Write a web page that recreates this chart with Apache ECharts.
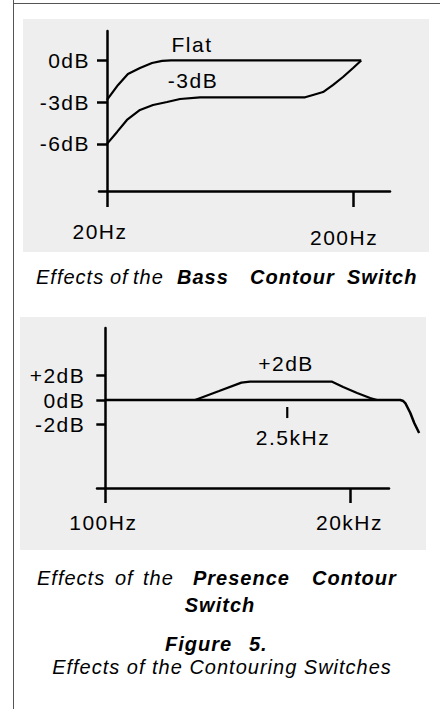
<!DOCTYPE html>
<html>
<head>
<meta charset="utf-8">
<script src="https://cdn.jsdelivr.net/npm/echarts@6/dist/echarts.min.js"></script>
<style>
  html, body { margin: 0; padding: 0; background: #fff; }
  #chart { width: 440px; height: 709px; }
  #chart text { letter-spacing: 1.5px; }
  #chart text[style*="italic"] { letter-spacing: 1px; }
</style>
</head>
<body>
<div id="chart"></div>
<script>
// x is schematic: first labelled tick = 0, second labelled tick = 10
const bassTickValues = [0, 10];
const bassTickLabels = ['20Hz', '200Hz'];
const bassDbTicks = [0, -3, -6];
const bassFlat = [[0, -2.84], [0.45, -1.76], [0.85, -0.97], [1.34, -0.54], [1.83, -0.18], [2.24, -0.03], [2.6, 0], [10.33, 0]];
const bassCut = [[0, -6], [0.41, -5.14], [0.81, -4.28], [1.34, -3.56], [1.87, -3.2], [2.44, -2.99], [2.97, -2.77], [3.78, -2.66],
  [8.05, -2.65], [8.37, -2.48], [8.78, -2.27], [9.19, -1.76], [9.59, -1.19], [10.0, -0.54], [10.33, 0]];

const presTickValues = [0, 10];
const presTickLabels = ['100Hz', '20kHz'];
const presDbTicks = [2, 0, -2];
const presFlat = [[0, 0], [12.03, 0], [12.15, -0.08], [12.25, -0.3], [12.44, -1.06], [12.6, -1.88], [12.8, -2.69]];
const presBoost = [[3.66, 0], [4.64, 0.73], [5.55, 1.42], [5.9, 1.5], [9.25, 1.5], [9.7, 1.06], [10.27, 0.57], [10.8, 0.16], [11.08, 0]];
const presMarker = [[7.42, -0.57], [7.42, -1.47]];

const FONT = '"Liberation Sans", Arial, sans-serif';
const black = '#000';

const chart = echarts.init(document.getElementById('chart'), null, { renderer: 'svg' });

const axisLine = { show: true, onZero: false, lineStyle: { color: '#000', width: 2.5 } };
const tickStyle = { color: '#000', width: 2.5 };

function dbLabel(v) {
  return (v > 0 ? '+' : '') + v + 'dB';
}

function lineSeries(data, axis, width) {
  return {
    type: 'line',
    xAxisIndex: axis,
    yAxisIndex: axis,
    data: data,
    symbol: 'none',
    clip: false,
    silent: true,
    lineStyle: { color: '#000', width: width || 2.2 }
  };
}

function txt(text, x, y, font, align) {
  return {
    type: 'text',
    x: x,
    y: y,
    style: { text: text, font: font, fill: black, textAlign: align || 'center', textVerticalAlign: 'middle' }
  };
}

const lbl = '21px ' + FONT;
const it = 'italic 20px ' + FONT;
const bi = 'italic bold 20px ' + FONT;

// the presence curve runs past the end of its x axis line, so it is drawn
// on a hidden, wider grid that shares the same scale
const presUnit = 292 / (11.57 + 0.34);

const option = {
  animation: false,
  grid: [
    { left: 99, top: 31, width: 291, height: 160 },
    { left: 97, top: 328, width: 292, height: 160 },
    { left: 97, top: 328, width: (12.9 + 0.34) * presUnit, height: 160 }
  ],
  xAxis: [
    {
      gridIndex: 0, type: 'value', min: -0.325, max: 11.5,
      axisLine: axisLine, splitLine: { show: false },
      axisTick: { show: true, customValues: bassTickValues, length: 16, lineStyle: tickStyle },
      axisLabel: {
        customValues: bassTickValues, margin: 40, verticalAlign: 'middle',
        fontSize: 21, fontFamily: FONT, color: black,
        formatter: v => '{t' + bassTickValues.indexOf(v) + '|' + bassTickLabels[bassTickValues.indexOf(v)] + '}',
        rich: { t0: { padding: [0, 14, 0, 0] }, t1: { padding: [12, 18, 0, 0] } }
      }
    },
    {
      gridIndex: 1, type: 'value', min: -0.34, max: 11.57,
      axisLine: axisLine, splitLine: { show: false },
      axisTick: { show: true, customValues: presTickValues, length: 15, lineStyle: tickStyle },
      axisLabel: {
        customValues: presTickValues, margin: 34, verticalAlign: 'middle',
        fontSize: 21, fontFamily: FONT, color: black,
        formatter: v => '{t' + presTickValues.indexOf(v) + '|' + presTickLabels[presTickValues.indexOf(v)] + '}',
        rich: { t0: { padding: [0, 4, 0, 0] }, t1: { padding: [0, 2, 0, 0] } }
      }
    },
    { gridIndex: 2, type: 'value', min: -0.34, max: 12.9, show: false }
  ],
  yAxis: [
    {
      gridIndex: 0, type: 'value', min: -9.39, max: 2.12, offset: -8,
      axisLine: axisLine, splitLine: { show: false },
      axisTick: { show: true, customValues: bassDbTicks, length: 10, lineStyle: tickStyle },
      axisLabel: { customValues: bassDbTicks, margin: 17, fontSize: 21, fontFamily: FONT, color: black, formatter: dbLabel }
    },
    {
      gridIndex: 1, type: 'value', min: -7.18, max: 5.88, offset: -8.3,
      axisLine: axisLine, splitLine: { show: false },
      axisTick: { show: true, customValues: presDbTicks, length: 9, lineStyle: tickStyle },
      axisLabel: { customValues: presDbTicks, margin: 20, fontSize: 21, fontFamily: FONT, color: black, formatter: dbLabel }
    },
    { gridIndex: 2, type: 'value', min: -7.18, max: 5.88, show: false }
  ],
  series: [
    lineSeries(bassFlat, 0),
    lineSeries(bassCut, 0),
    lineSeries(presFlat, 2, 2.5),
    lineSeries(presBoost, 2),
    lineSeries(presMarker, 2)
  ],
  graphic: [
    { type: 'rect', z: -1, shape: { x: 23, y: 19, width: 406, height: 233 }, style: { fill: '#eeeeee' } },
    { type: 'rect', z: -1, shape: { x: 20, y: 317, width: 406, height: 233 }, style: { fill: '#eeeeee' } },
    { type: 'line', shape: { x1: 13.5, y1: 0, x2: 13.5, y2: 709 }, style: { stroke: '#555', lineWidth: 1 } },
    { type: 'line', shape: { x1: 13, y1: 3.5, x2: 440, y2: 3.5 }, style: { stroke: '#555', lineWidth: 1 } },

    txt('Flat', 192, 44, lbl),
    txt('-3dB', 193, 80, lbl),
    txt('+2dB', 286, 363, lbl),
    txt('2.5kHz', 293, 437, lbl),

    txt('Effects', 36, 277, it, 'left'),
    txt('of', 110, 277, it, 'left'),
    txt('the', 133, 277, it, 'left'),
    txt('Bass', 177, 277, bi, 'left'),
    txt('Contour', 250, 277, bi, 'left'),
    txt('Switch', 347, 277, bi, 'left'),

    txt('Effects', 37, 578, it, 'left'),
    txt('of', 115, 578, it, 'left'),
    txt('the', 143, 578, it, 'left'),
    txt('Presence', 193, 578, bi, 'left'),
    txt('Contour', 312, 578, bi, 'left'),
    txt('Switch', 220, 605, bi),

    txt('Figure', 165, 644, bi, 'left'),
    txt('5.', 249, 644, bi, 'left'),
    txt('Effects of the Contouring Switches', 222, 667, it)
  ]
};

chart.setOption(option);
</script>
</body>
</html>
